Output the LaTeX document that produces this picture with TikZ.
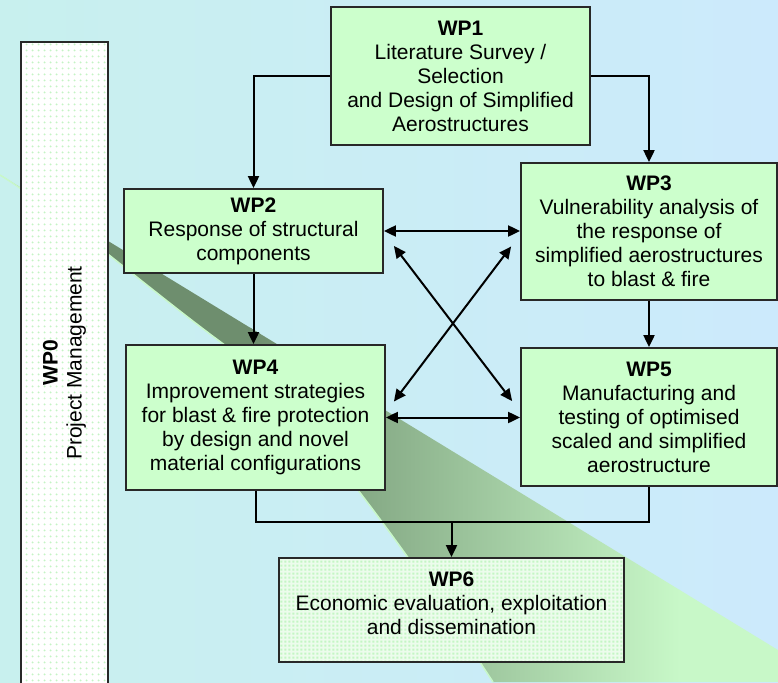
\documentclass[tikz,border=0pt]{standalone}
\usepackage{fontspec}
\setmainfont{Liberation Sans}
\usetikzlibrary{arrows.meta,calc,patterns}

\definecolor{bgleft}{RGB}{200,240,238}
\definecolor{bgright}{RGB}{204,234,252}
\definecolor{wpgreen}{RGB}{204,255,204}
\definecolor{wpborder}{RGB}{40,40,40}
\definecolor{swooshdark}{RGB}{110,142,110}
\definecolor{swooshlight}{RGB}{200,248,200}
\definecolor{dotgreen}{RGB}{196,244,196}
\definecolor{checkgreen}{RGB}{196,246,196}

% Patterns for the WP0 and WP6 boxes
\pgfdeclarepatternformonly{wpdots}{\pgfqpoint{0pt}{0pt}}{\pgfqpoint{6pt}{6pt}}{\pgfqpoint{6pt}{6pt}}{%
  \pgfpathcircle{\pgfqpoint{3pt}{3pt}}{1.2pt}\pgfusepath{fill}}
\pgfdeclarepatternformonly{wpchecks}{\pgfqpoint{0pt}{0pt}}{\pgfqpoint{4pt}{4pt}}{\pgfqpoint{4pt}{4pt}}{%
  \pgfpathrectangle{\pgfqpoint{0.5pt}{0.5pt}}{\pgfqpoint{2.5pt}{2.5pt}}\pgfusepath{fill}}

\begin{document}
\begin{tikzpicture}[x=1pt,y=-1pt,
    wpbox/.style={draw=wpborder, line width=1.8pt, fill=wpgreen, align=center,
      inner sep=0pt, font=\fontsize{21}{24}\selectfont},
    wparrow/.style={line width=2pt, -{Triangle[length=12pt,width=11pt]}},
    wpboth/.style={line width=2pt, {Triangle[length=12pt,width=11pt]}-{Triangle[length=12pt,width=11pt]}}]
    \def\W{778} % Width of the page
    \def\H{682} % Height of the page

    % Draw the background
    \useasboundingbox (0,0) rectangle (\W,\H);
    \shade[left color=bgleft, right color=bgright] (0,0) rectangle (\W,\H);

    % Draw the green swoosh
    \begin{scope}
        \clip (0,175) -- (\W,650) -- (\W,\H) -- (493,\H)
            .. controls (420,570) and (300,400) .. (222,343)
            .. controls (150,290) and (60,212) .. (0,175) -- cycle;
        \fill[swooshdark] (0,0) rectangle (260,\H);
        \shade[left color=swooshdark, right color=swooshlight] (250,0) rectangle (680,\H);
        \fill[swooshlight] (679,0) rectangle (\W,\H);
    \end{scope}
    \draw[swooshlight, line width=1.5pt] (493,\H)
        .. controls (420,570) and (300,400) .. (222,343)
        .. controls (150,290) and (60,212) .. (0,175);

    % Draw the work packages
    \node (wp0) at (64.5,363) [wpbox, rotate=90, minimum width=642, minimum height=87,
        preaction={fill=white}, pattern=wpdots, pattern color=dotgreen]
        {\textbf{WP0}\\Project Management};
    \node (wp1) at (460.5,76) [wpbox, minimum width=259, minimum height=138]
        {\textbf{WP1}\\Literature Survey /\\Selection\\and Design of Simplified\\Aerostructures};
    \node (wp2) at (253.5,231) [wpbox, minimum width=259, minimum height=84]
        {\textbf{WP2}\\Response of structural\\components};
    \node (wp3) at (649,231.5) [wpbox, minimum width=256, minimum height=137]
        {\textbf{WP3}\\Vulnerability analysis of\\the response of\\simplified aerostructures\\to blast \& fire};
    \node (wp4) at (255.5,417.5) [wpbox, minimum width=259, minimum height=145]
        {\textbf{WP4}\\Improvement strategies\\for blast \& fire protection\\by design and novel\\material configurations};
    \node (wp5) at (649,417) [wpbox, minimum width=256, minimum height=138]
        {\textbf{WP5}\\Manufacturing and\\testing of optimised\\scaled and simplified\\aerostructure};
    \node (wp6) at (451.5,610) [wpbox, minimum width=345, minimum height=104,
        preaction={fill={rgb,255:red,236;green,252;blue,236}}, pattern=wpchecks, pattern color=checkgreen]
        {\textbf{WP6}\\Economic evaluation, exploitation\\and dissemination\\[-10pt]\mbox{}};

    % Draw the links between the work packages
    \draw[wparrow] (wp1.west) -| (wp2.north);
    \draw[wparrow] (wp1.east) -| (wp3.north);
    \draw[wpboth] (wp2.east) -- (wp2.east -| wp3.west);
    \draw[wparrow] (wp2.south) -- (wp2.south |- wp4.north);
    \draw[wparrow] (wp3.south) -- (wp5.north);
    \draw[wpboth] (wp4.east) -- (wp4.east -| wp5.west);
    \draw[wpboth] ($(wp2.east)+(10,15)$) -- ($(wp5.west)+(-8,-16)$);
    \draw[wpboth] ($(wp3.west)+(-9,15)$) -- ($(wp4.east)+(8,-16)$);

    % Draw the merge into WP6
    \coordinate (wpjoin) at ($(wp6.north)+(0,-35)$);
    \draw[line width=2pt] (wp4.south) |- (wpjoin) -| (wp5.south);
    \draw[wparrow] (wpjoin) -- (wp6.north);
\end{tikzpicture}
\end{document}
